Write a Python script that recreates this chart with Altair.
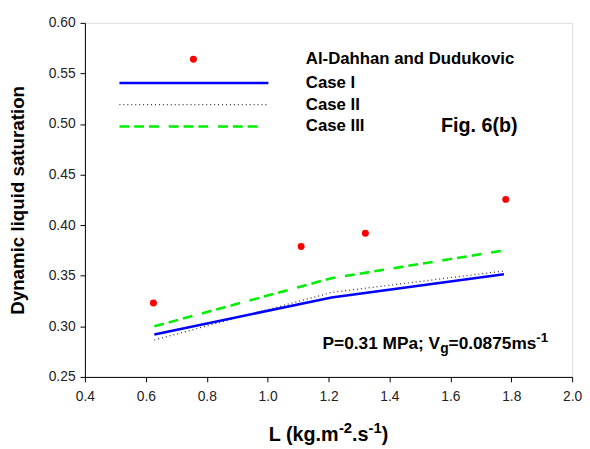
import altair as alt
import pandas as pd

# ---------------- data ----------------
exp_L = [0.625, 1.11, 1.321, 1.782]
exp_sat = [0.323, 0.379, 0.392, 0.4255]

model_L = [0.628, 1.21, 1.776]
case1 = [0.292, 0.3285, 0.3515]
case2 = [0.2865, 0.3335, 0.3547]
case3 = [0.300, 0.3476, 0.375]

x_ticks = [0.4, 0.6, 0.8, 1.0, 1.2, 1.4, 1.6, 1.8, 2.0]
y_ticks = [0.25, 0.30, 0.35, 0.40, 0.45, 0.50, 0.55, 0.60]

legend_labels = ["Al-Dahhan and Dudukovic", "Case I", "Case II", "Case III"]

FONT = "Liberation Sans"
W, H = 494, 359

# Arial / Liberation Sans Bold advance widths (per em)
BW = {" ": .278, "P": .667, "=": .584, ".": .278, "M": .833, "a": .556, ";": .333,
      "V": .667, "g": .611, "m": .889, "s": .556, "-": .333, "L": .611, "(": .333,
      ")": .333, "k": .556}
for d in "0123456789":
    BW[d] = .556


def width(s, size):
    return sum(BW[c] for c in s) * size


def rich(segments, x0, y0):
    rows = []
    x = x0
    for t, sz, dy in segments:
        rows.append({"t": t, "x": x, "y": y0 + dy, "s": sz})
        x += width(t, sz)
    return rows


xs = alt.Scale(domain=[0.4, 2.0], nice=False, zero=False)
ys = alt.Scale(domain=[0.25, 0.60], nice=False, zero=False)

exp_df = pd.DataFrame({"L": exp_L, "sat": exp_sat})
model_df = pd.DataFrame({"L": model_L, "c1": case1, "c2": case2, "c3": case3})

base_x = alt.X("L:Q", scale=xs,
               axis=alt.Axis(values=x_ticks, format=".1f", title=None, grid=False,
                             tickSize=5, labelPadding=8, labelFontSize=14,
                             labelFont=FONT, labelColor="#222", domainColor="black",
                             tickColor="black", labelFlush=False))
base_y = alt.Y("sat:Q", scale=ys,
               axis=alt.Axis(values=y_ticks, format=".2f", title="Dynamic liquid saturation",
                             grid=False, tickSize=5, labelPadding=5, labelFontSize=14,
                             labelFont=FONT, labelColor="#222", domainColor="black",
                             tickColor="black", titleFont=FONT, titleFontSize=19,
                             titleFontWeight="bold", titleX=-58, titleY=H / 2,
                             titleAlign="center", titleBaseline="bottom", titleAngle=270,
                             labelFlush=False))

points = alt.Chart(exp_df).mark_circle(color="#ff0000", size=50, opacity=1).encode(
    x=base_x, y=base_y)

line1 = alt.Chart(model_df).mark_line(color="#0000ff", strokeWidth=2.6).encode(
    x=alt.X("L:Q", scale=xs), y=alt.Y("c1:Q", scale=ys))
line2 = alt.Chart(model_df).mark_line(color="#333333", strokeWidth=1.3,
                                      strokeDash=[1, 3]).encode(
    x=alt.X("L:Q", scale=xs), y=alt.Y("c2:Q", scale=ys))
line3 = alt.Chart(model_df).mark_line(color="#00ee00", strokeWidth=2.6,
                                      strokeDash=[10, 5, 10, 5, 10, 10]).encode(
    x=alt.X("L:Q", scale=xs), y=alt.Y("c3:Q", scale=ys))

# ---------------- legend (manual) ----------------
leg_y = [37, 61, 83, 105]
leg_txt = pd.DataFrame({"t": legend_labels, "y": leg_y})
legend_text = alt.Chart(leg_txt).mark_text(
    align="left", baseline="middle", font=FONT, fontSize=17, fontWeight="bold",
    color="black").encode(x=alt.value(224), y=alt.Y("y:Q", scale=None), text="t:N")

leg_dot = alt.Chart(pd.DataFrame({"k": [0]})).mark_circle(
    color="#ff0000", size=50, opacity=1).encode(x=alt.value(110), y=alt.value(leg_y[0]))
leg_l1 = alt.Chart(pd.DataFrame({"k": [0]})).mark_rule(
    color="#0000ff", strokeWidth=2.6).encode(x=alt.value(35), x2=alt.value(186),
                                             y=alt.value(leg_y[1]))
leg_l2 = alt.Chart(pd.DataFrame({"k": [0]})).mark_rule(
    color="#333333", strokeWidth=1.3, strokeDash=[1, 3]).encode(
    x=alt.value(35), x2=alt.value(186), y=alt.value(leg_y[2]))
leg_l3 = alt.Chart(pd.DataFrame({"k": [0]})).mark_rule(
    color="#00ee00", strokeWidth=2.6, strokeDash=[10, 5, 10, 5, 10, 10]).encode(
    x=alt.value(35), x2=alt.value(181), y=alt.value(leg_y[3]))

fig_lbl = alt.Chart(pd.DataFrame({"t": ["Fig. 6(b)"]})).mark_text(
    align="left", baseline="middle", font=FONT, fontSize=20, fontWeight="bold",
    color="black").encode(x=alt.value(361), y=alt.value(leg_y[3]), text="t:N")

# ---------------- annotation with sub/superscripts ----------------
fs = 17.5
ann_rows = rich([("P=0.31 MPa; V", fs, 0), ("g", 14, 4), ("=0.0875ms", fs, 0),
                 ("-1", 13.5, -7)], 241, 331)
ann_df = pd.DataFrame(ann_rows)
annotation = alt.Chart(ann_df).mark_text(
    align="left", baseline="alphabetic", font=FONT, fontWeight="bold",
    color="black").encode(x=alt.X("x:Q", scale=None), y=alt.Y("y:Q", scale=None),
                          text="t:N", size=alt.Size("s:Q", scale=None))

# ---------------- x axis title with superscripts ----------------
tf = 20
segs = [("L (kg.m", tf, 0), ("-2", 15, -8), (".s", tf, 0), ("-1", 15, -8), (")", tf, 0)]
total = sum(width(t, s) for t, s, _ in segs)
xt_rows = rich(segs, W / 2 - total / 2, 424)
xt_df = pd.DataFrame(xt_rows)
xtitle = alt.Chart(xt_df).mark_text(
    align="left", baseline="alphabetic", font=FONT, fontWeight="bold",
    color="black").encode(x=alt.X("x:Q", scale=None), y=alt.Y("y:Q", scale=None),
                          text="t:N", size=alt.Size("s:Q", scale=None))

chart = alt.layer(
    line2, line1, line3, points,
    legend_text, leg_dot, leg_l1, leg_l2, leg_l3, fig_lbl, annotation, xtitle
).properties(
    width=W, height=H,
    autosize=alt.AutoSizeParams(type="none"),
    padding={"left": 78, "top": 12, "right": 10, "bottom": 69},
).configure_view(stroke="black", strokeWidth=1).configure(background="white")

chart.save("out.html", embed_options={"renderer": "svg", "actions": False})
